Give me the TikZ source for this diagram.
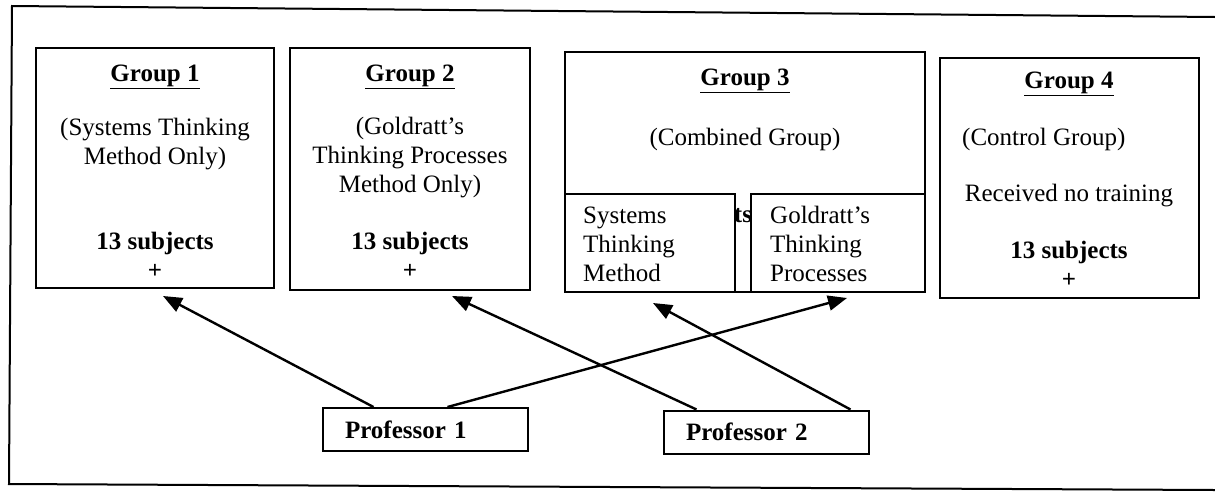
\documentclass[tikz,border=0pt]{standalone}
\usepackage{fontspec}
\setmainfont{Liberation Serif}
\usetikzlibrary{arrows.meta}
\tikzset{
  grpbox/.style={draw,line width=2pt,minimum width=#1,inner sep=0pt},
  profbox/.style={draw,line width=2pt,minimum width=205pt,minimum height=43pt,inner xsep=22pt,text width=161pt,align=left,font=\fontsize{25}{29}\selectfont\bfseries},
  arr/.style={line width=2.4pt,-{Triangle[length=19pt,width=15pt]}},
  txt/.style={inner sep=0pt,align=center},
}
\begin{document}
\begin{tikzpicture}[x=1pt,y=-1pt,font=\fontsize{25}{29}\selectfont]
\useasboundingbox (0,0) rectangle (1215,491);
\draw[line width=2pt] (1215,17) -- (12,6) -- (9,484) -- (1215,490);
% groups
\node[grpbox=238pt,minimum height=240pt] (g1) at (155,168) {};
\node[grpbox=240pt,minimum height=242pt] (g2) at (410,169) {};
\node[grpbox=360pt,minimum height=240pt] (g3) at (745,172) {};
\node[grpbox=259pt,minimum height=240pt] (g4) at (1069.5,178) {};
\node[txt,font=\fontsize{25}{29}\selectfont\bfseries] (ts) at (743,216) {ts};
\node[grpbox=170pt,minimum height=98pt,fill=white] (g3a) at (650,243) {};
\node[grpbox=174pt,minimum height=98pt,fill=white] (g3b) at (838,243) {};
% texts
\node[txt] (g1t) at (155,77) {\underline{\textbf{Group 1}}};
\node[txt] (g1d) at (155,144) {(Systems Thinking\\Method Only)};
\node[txt] (g1n) at (155,255) {\textbf{13 subjects}\\\textbf{+}};
\node[txt] (g2t) at (410,77) {\underline{\textbf{Group 2}}};
\node[txt] (g2d) at (410,158) {(Goldratt's\\Thinking Processes\\Method Only)};
\node[txt] (g2n) at (410,255) {\textbf{13 subjects}\\\textbf{+}};
\node[txt] (g3t) at (745,81) {\underline{\textbf{Group 3}}};
\node[txt] (g3d) at (745,139) {(Combined Group)};
\node[txt,align=left,anchor=west] (g3at) at (583,244) {Systems\\Thinking\\Method};
\node[txt,align=left,anchor=west] (g3bt) at (770,244) {Goldratt's\\Thinking\\Processes};
\node[txt] (g4t) at (1069,84) {\underline{\textbf{Group 4}}};
\node[txt,anchor=west] (g4d) at (962,139) {(Control Group)};
\node[txt] (g4r) at (1069,196) {Received no training};
\node[txt] (g4n) at (1069,264) {\textbf{13 subjects}\\\textbf{+}};
% professors
\node[profbox] (prof1) at (425.5,429.5) {Professor 1};
\node[profbox] (prof2) at (766.5,432) {Professor 2};
\draw[arr] ([xshift=-52pt]prof1.north) -- ([xshift=8pt,yshift=-7pt]g1.south);
\draw[arr] ([xshift=22pt]prof1.north) -- ([xshift=9pt,yshift=-5pt]g3b.south);
\draw[arr] ([xshift=-70pt]prof2.north) -- ([xshift=42pt,yshift=-5pt]g2.south);
\draw[arr] ([xshift=84pt]prof2.north) -- ([xshift=3pt,yshift=-10pt]g3a.south);
\end{tikzpicture}
\end{document}
